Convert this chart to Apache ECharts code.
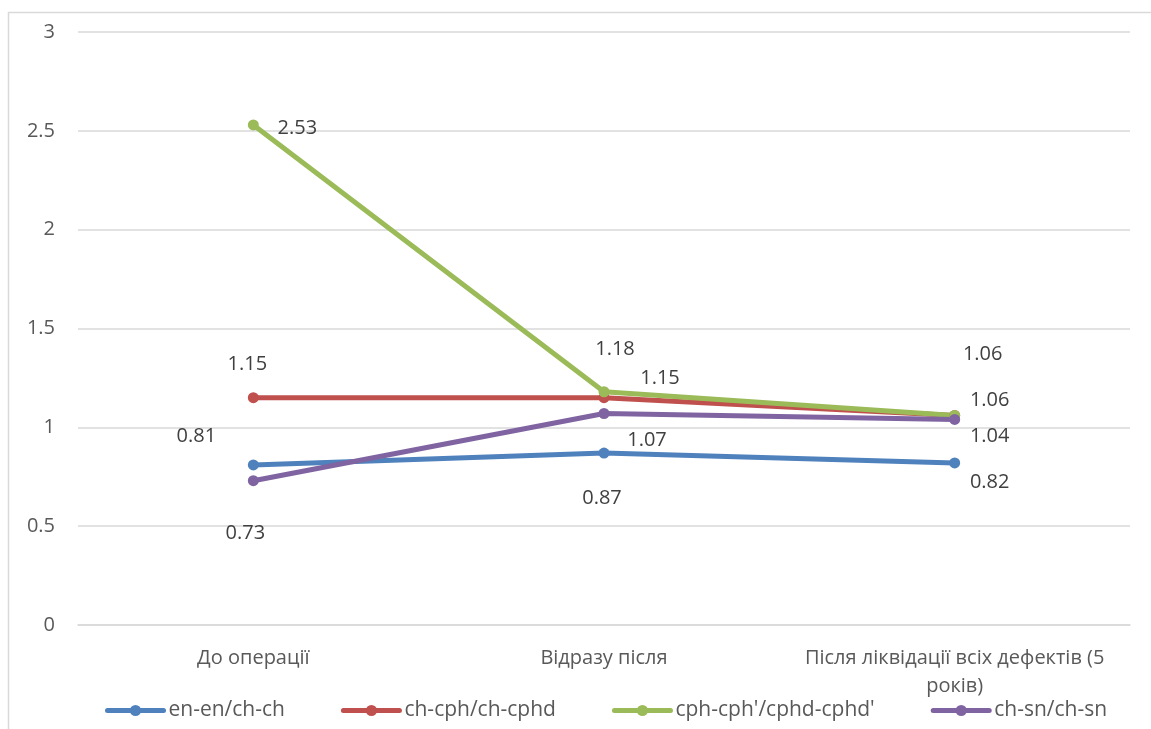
<!DOCTYPE html>
<html>
<head>
<meta charset="utf-8">
<script src="https://cdn.jsdelivr.net/npm/echarts@6/dist/echarts.min.js"></script>
<style>
  html, body { margin: 0; padding: 0; background: #ffffff; }
  #chart { width: 1151px; height: 729px; }
</style>
</head>
<body>
<div id="chart"></div>
<script>
// Stages of treatment (x categories)
const categories = ['До операції', 'Відразу після', 'Після ліквідації всіх дефектів (5 років)'];

// Ratios per pair of landmarks
const seriesNames = ['en-en/ch-ch', 'ch-cph/ch-cphd', "cph-cph'/cphd-cphd'", 'ch-sn/ch-sn'];
const enEn = [0.81, 0.87, 0.82];
const chCph = [1.15, 1.15, 1.06];
const cphCph = [2.53, 1.18, 1.06];
const chSn = [0.73, 1.07, 1.04];

// Y axis ticks
const yTicks = [0, 0.5, 1, 1.5, 2, 2.5, 3];

// Presentation: colours and per-point label offsets (px from the marker centre)
const colors = ['#4F81BD', '#C0504D', '#9BBB59', '#8064A2'];
const labelOffsets = [
  [[-57, -29], [-2, 45], [35, 19]],
  [[-6, -33], [56, -19], [28, -61]],
  [[44, 3], [11, -42], [35, -15]],
  [[-8, 53], [43, 27], [35, 17]]
];

const FONT = '"Open Sans", "Noto Sans", sans-serif';
const AXIS_FONT_SIZE = 20;
const valuesList = [enEn, chCph, cphCph, chSn];

// Word-wrap a category name so each line stays within maxWidth pixels
const measureCtx = document.createElement('canvas').getContext('2d');
function wrapLabel(text, maxWidth) {
  measureCtx.font = AXIS_FONT_SIZE + 'px ' + FONT;
  const words = text.split(' ');
  const lines = [];
  let line = '';
  words.forEach(w => {
    const candidate = line ? line + ' ' + w : w;
    if (line && measureCtx.measureText(candidate).width > maxWidth) {
      lines.push(line);
      line = w;
    } else {
      line = candidate;
    }
  });
  if (line) lines.push(line);
  return lines.join('\n');
}

const series = valuesList.map((vals, si) => ({
  name: seriesNames[si],
  type: 'line',
  data: vals.map((v, i) => ({
    value: v,
    label: { offset: labelOffsets[si][i] }
  })),
  symbol: 'circle',
  symbolSize: 11,
  color: colors[si],
  lineStyle: { width: 5, color: colors[si], cap: 'round', join: 'round' },
  itemStyle: { color: colors[si] },
  emphasis: { disabled: true },
  animation: false,
  label: {
    show: true,
    position: 'inside',
    align: 'center',
    verticalAlign: 'middle',
    color: '#404040',
    fontFamily: FONT,
    fontSize: 20,
    formatter: p => String(p.value)
  }
}));

const chart = echarts.init(document.getElementById('chart'), null, { renderer: 'canvas' });
chart.setOption({
  backgroundColor: '#ffffff',
  animation: false,
  graphic: [{
    type: 'rect',
    shape: { x: 8.5, y: 12.5, width: 1300, height: 900 },
    style: { fill: 'none', stroke: '#D9D9D9', lineWidth: 1.5 },
    silent: true,
    z: -10
  }],
  grid: { left: 78, right: 21, top: 32, bottom: 104 },
  legend: {
    data: seriesNames,
    left: 100,
    top: 695,
    itemWidth: 56,
    itemHeight: 14,
    itemGap: 56,
    lineStyle: { width: 5, cap: 'round' },
    textStyle: { color: '#595959', fontFamily: FONT, fontSize: 21 }
  },
  xAxis: {
    type: 'category',
    data: categories,
    boundaryGap: true,
    axisLine: { show: true, lineStyle: { color: '#D9D9D9', width: 1.5 } },
    axisTick: { show: false },
    axisLabel: {
      interval: 0,
      color: '#595959',
      fontFamily: FONT,
      fontSize: AXIS_FONT_SIZE,
      lineHeight: 28,
      margin: 19,
      formatter: v => wrapLabel(v, 335)
    }
  },
  yAxis: {
    type: 'value',
    min: yTicks[0],
    max: yTicks[yTicks.length - 1],
    interval: yTicks[1] - yTicks[0],
    axisLine: { show: false },
    axisTick: { show: false },
    splitLine: { lineStyle: { color: '#D9D9D9', width: 1.5 } },
    axisLabel: {
      color: '#595959',
      fontFamily: FONT,
      fontSize: 20,
      margin: 23
    }
  },
  series: series
});
</script>
</body>
</html>
